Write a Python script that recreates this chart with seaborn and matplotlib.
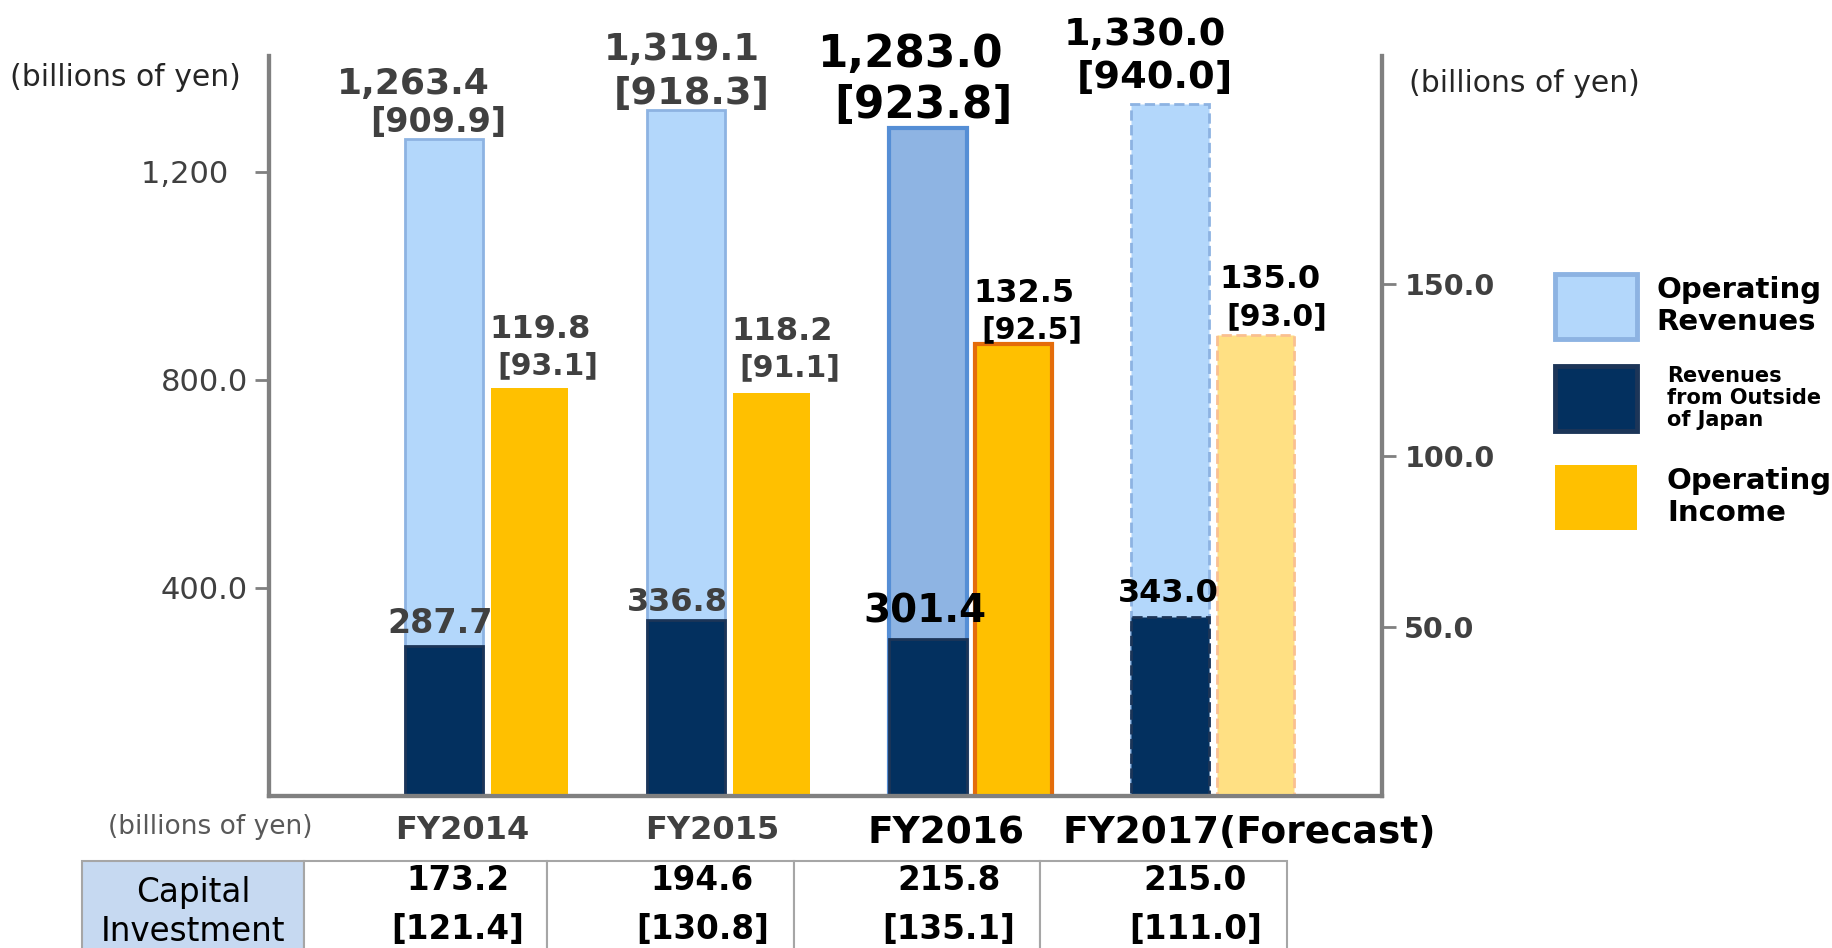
import numpy as np
import matplotlib
matplotlib.use("Agg")
import matplotlib.pyplot as plt
import seaborn as sns
from matplotlib.patches import Rectangle

# Data (billions of yen)
years = ["FY2014", "FY2015", "FY2016", "FY2017(Forecast)"]
revenues = [1263.4, 1319.1, 1283.0, 1330.0]
revenues_sub = [909.9, 918.3, 923.8, 940.0]
outside = [287.7, 336.8, 301.4, 343.0]
income = [119.8, 118.2, 132.5, 135.0]
income_sub = [93.1, 91.1, 92.5, 93.0]
capex = [173.2, 194.6, 215.8, 215.0]
capex_sub = [121.4, 130.8, 135.1, 111.0]
left_ticks = [400, 800, 1200]
left_ticklabels = ["400.0", "800.0", "1,200  "]
right_ticks = [50, 100, 150]
right_ticklabels = ["50.0", "100.0", "150.0"]

W, H = 1832, 948

def fx(px):
    return px / W

def fy(py):
    return 1 - py / H

sns.set_style("white")
plt.rcParams['font.family'] = ['DejaVu Sans']

fig = plt.figure(figsize=(W / 100, H / 100), dpi=100)
ax = fig.add_axes([0.1468, 0.1608, 0.6076, 0.780])
ax2 = ax.twinx()

x = np.arange(len(years))
bar_w = 0.32
off = 0.176


def draw_bars(axis, xs, vals, color):
    n0 = len(axis.patches)
    sns.barplot(x=xs, y=vals, native_scale=True, width=bar_w, color=color,
                saturation=1, errorbar=None, ax=axis)
    return axis.patches[n0:]


# per-year styling (FY2016 is highlighted, FY2017 is a forecast)
rev_face = ["#b3d7fb", "#b3d7fb", "#8eb4e3", "#b3d7fb"]
rev_edge = ["#8db3e2", "#8db3e2", "#558ed5", "#8db3e2"]
ls = ["-", "-", "-", "--"]
rev_lw = [2, 2, 3, 2]
inc_face = ["#ffc000", "#ffc000", "#ffc000", "#ffe083"]
inc_edge = ["none", "none", "#e46c0a", "#fac090"]
inc_lw = [0, 0, 3, 2]
txt_col = ["#404040", "#404040", "black", "black"]

rev_bars = draw_bars(ax, x - off, revenues, rev_face[0])
for p, fc, ec, s, lw in zip(rev_bars, rev_face, rev_edge, ls, rev_lw):
    p.set_facecolor(fc)
    p.set_edgecolor(ec)
    p.set_linestyle(s)
    p.set_linewidth(lw)

out_bars = draw_bars(ax, x - off, outside, "#03305f")
for p, s in zip(out_bars, ls):
    p.set_edgecolor("#1c3558")
    p.set_linestyle(s)
    p.set_linewidth(2)

inc_bars = draw_bars(ax2, x + off, income, inc_face[0])
for p, fc, ec, s, lw in zip(inc_bars, inc_face, inc_edge, ls, inc_lw):
    p.set_facecolor(fc)
    p.set_edgecolor(ec)
    p.set_linestyle(s)
    p.set_linewidth(lw)

ax.set_xlim(-0.9, 3.7)
ax2.set_xlim(-0.9, 3.7)
ax.set_ylim(0, 1422)
ax2.set_ylim(1.0, 216.3)

# label layout (offsets in points from the bar top)
top_main_size = [26, 26.5, 31.5, 27.5]
top_sub_size = [24, 27.5, 31.5, 27.5]
top_main_off = [(-22, 39.5), (-3, 43.5), (-13, 53.5), (-18, 49.5)]
top_sub_off = [(-4, 11.5), (4, 11.5), (-3, 16.5), (-11, 18.5)]
out_size = [24, 23, 28, 23]
out_off = [(-3, 16), (-6, 13), (-2, 20), (-1, 17)]
inc_main_off = [(-1, 41.5), (-1, 44.5), (-1, 36.5), (2, 40.5)]
inc_sub_off = [(5, 15.5), (5, 18.5), (5, 10.5), (7, 13.5)]

for i in range(len(years)):
    xc = x[i] - off
    bold = dict(fontweight="bold", color=txt_col[i], va="center",
                textcoords="offset points", zorder=10)
    ax.annotate(f"[{revenues_sub[i]:.1f}]", xy=(xc, revenues[i]), xytext=top_sub_off[i],
                ha="center", fontsize=top_sub_size[i], **bold)
    ax.annotate(f"{revenues[i]:,.1f}", xy=(xc, revenues[i]), xytext=top_main_off[i],
                ha="center", fontsize=top_main_size[i], **bold)
    # drawn on the twin axes so the text sits above the income bars
    ax2.annotate(f"{outside[i]:.1f}", xy=(xc, outside[i]), xycoords=ax.transData,
                 xytext=out_off[i], ha="center", fontsize=out_size[i], **bold)
    xl = x[i] + off - bar_w / 2
    ax2.annotate(f"[{income_sub[i]:.1f}]", xy=(xl, income[i]), xytext=inc_sub_off[i],
                 ha="left", fontsize=21.5, **bold)
    ax2.annotate(f"{income[i]:.1f}", xy=(xl, income[i]), xytext=inc_main_off[i],
                 ha="left", fontsize=23, **bold)

# axes styling
spine_col = "#808080"
for a in (ax, ax2):
    for side in ("left", "right", "bottom"):
        a.spines[side].set_color(spine_col)
        a.spines[side].set_linewidth(3)
    a.spines["top"].set_visible(False)
    a.set_xlabel("")
    a.set_ylabel("")

ax.set_yticks(left_ticks)
ax.set_yticklabels(left_ticklabels)
ax.tick_params(axis="y", length=10, width=2, color=spine_col, pad=5,
               labelsize=22, labelcolor="#404040")
ax2.set_yticks(right_ticks)
ax2.set_yticklabels(right_ticklabels, fontweight="bold")
ax2.tick_params(axis="y", length=10, width=2, color=spine_col, pad=6,
                labelsize=20.5, labelcolor="#404040")

tick_shift = [-0.1, -0.07, -0.1, 0.15]
ax.set_xticks(x + np.array(tick_shift))
ax.set_xticklabels(years)
ax.tick_params(axis="x", length=0, pad=14)
ax2.tick_params(axis="x", length=0)
xt_size = [23, 23, 27, 27]
for lab, c, s in zip(ax.get_xticklabels(), txt_col, xt_size):
    lab.set_fontsize(s)
    lab.set_fontweight("bold")
    lab.set_color(c)

# unit labels
unit_kw = dict(fontsize=21.5, color="#262626", ha="center", va="center")
fig.text(fx(125), fy(77), "(billions of yen)", **unit_kw)
fig.text(fx(1524), fy(84), "(billions of yen)", **unit_kw)
fig.text(fx(210), fy(827), "(billions of yen)", fontsize=19, color="#595959",
         ha="center", va="center")

# legend
legend_items = [
    ("#b3d7fb", "#8db3e2", "Operating\nRevenues", 21, 274, 1656),
    ("#03305f", "#1c3558", "Revenues\nfrom Outside\nof Japan", 15, 366, 1667),
    ("#ffc000", "none", "Operating\nIncome", 21, 465, 1667),
]
for fc, ec, label, size, top, tx in legend_items:
    fig.add_artist(Rectangle((fx(1555), fy(top + 65)), fx(82), 65 / H,
                             facecolor=fc, edgecolor=ec, linewidth=3.5,
                             transform=fig.transFigure))
    fig.text(fx(tx), fy(top + 32), label, fontsize=size, fontweight="bold",
             color="black", ha="left", va="center", linespacing=1.15)

# capital investment table
col_edges = [82, 304, 547, 794, 1040, 1287]
t_top, t_bot = 861, 960
fig.add_artist(Rectangle((fx(col_edges[0]), fy(t_bot)), fx(col_edges[1] - col_edges[0]),
                         (t_bot - t_top) / H, facecolor="#c6d9f1", edgecolor="#a6a6a6",
                         linewidth=1.5, transform=fig.transFigure))
for i in range(1, len(col_edges) - 1):
    fig.add_artist(Rectangle((fx(col_edges[i]), fy(t_bot)), fx(col_edges[i + 1] - col_edges[i]),
                             (t_bot - t_top) / H, facecolor="white", edgecolor="#a6a6a6",
                             linewidth=1.5, transform=fig.transFigure))
fig.text(fx((col_edges[0] + col_edges[1]) / 2), fy(912), "Capital\nInvestment",
         fontsize=23.5, color="black", ha="center", va="center", linespacing=1.25)
for i in range(len(years)):
    cx = (col_edges[i + 1] + col_edges[i + 2]) / 2 + 32
    fig.text(fx(cx), fy(881), f"{capex[i]:.1f}", fontsize=23.5, fontweight="bold",
             color="black", ha="center", va="center")
    fig.text(fx(cx), fy(930), f"[{capex_sub[i]:.1f}]", fontsize=23.5, fontweight="bold",
             color="black", ha="center", va="center")

fig.savefig("out.png", dpi=100)
